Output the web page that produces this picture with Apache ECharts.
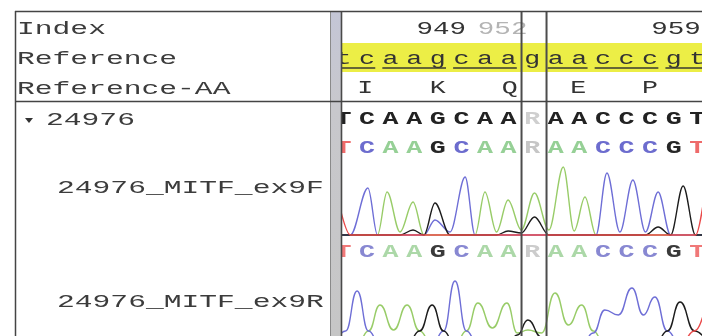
<!DOCTYPE html>
<html>
<head>
<meta charset="utf-8">
<script src="https://cdn.jsdelivr.net/npm/echarts@6/dist/echarts.min.js"></script>
<style>
  html, body { margin: 0; padding: 0; background: #fff; }
  #chart { width: 702px; height: 336px; }
</style>
</head>
<body>
<div id="chart"></div>
<script>
// sequence rows
const refBases = ['t','c','a','a','g','c','a','a','g','a','a','c','c','c','g','t']
const consensus = ['T','C','A','A','G','C','A','A','R','A','A','C','C','C','G','T']
const calls1 = ['T','C','A','A','G','C','A','A','R','A','A','C','C','C','G','T']
const calls2 = ['T','C','A','A','G','C','A','A','R','A','A','C','C','C','G','T']
const aaLabels = ['I', 'K', 'Q', 'E', 'P']
const aaAt = [0.92, 4, 7.05, 9.95, 13]
const indexLabels = ['949', '952', '959']
const indexAt = [5.2, 7.8, 15.15] // right edge, in bases
const codonFrom = [-1, 2, 5, 9, 11, 14]
const codonTo = [1, 4, 7, 10, 13, 16]
const boxEdges = [7.55, 8.61]
const rowNames = ['Index', 'Reference', 'Reference-AA']
const sampleName = '24976'
const traceNames = ['24976_MITF_ex9F', '24976_MITF_ex9R']

// forward trace: peak positions (bases), peak heights and valleys per channel
const pos1 = [-0.45, 1.04, 1.85, 2.95, 3.88, 5.16, 6.0, 6.98, 8.1, 9.32, 10.24, 11.17, 12.27, 13.34, 14.4, 15.45]
const peakA1 = [0, 0, 43, 33, 0, 0, 43, 35, 42, 68, 38, 0, 0, 0, 0, 0]
const peakC1 = [0, 47, 0, 0, 15, 58, 0, 0, 0, 0, 0, 62, 55, 43, 0, 0]
const peakG1 = [0, 0, 0, 5, 32, 0, 0, 4, 18, 0, 0, 0, 0, 8, 49, 0]
const peakT1 = [60, 0, 0, 0, 0, 0, 0, 0, 0, 0, 0, 0, 0, 0, 0, 65]
const valA1 = [0, 0, 3, 0, 0, 0, 3, 5, 5, 4, 0, 0, 0, 0, 0]
const valC1 = [0, 0, 0, 0, 3, 0, 0, 0, 0, 0, 0, 3, 3, 0, 0]
const valG1 = [0, 0, 0, 0, 0, 0, 0, 2, 0, 0, 0, 0, 0, 0, 0]
const valT1 = [0, 0, 0, 0, 0, 0, 0, 0, 0, 0, 0, 0, 0, 0, 0]

// reverse trace
const pos2 = [-0.4, 0.58, 1.55, 2.7, 3.76, 4.73, 5.7, 6.93, 7.82, 8.97, 10.1, 11.08, 12.23, 13.2, 14.27, 15.5]
const peakA2 = [0, 0, 40, 40, 0, 0, 42, 42, 15, 52, 40, 0, 0, 0, 0, 0]
const peakC2 = [0, 54, 0, 0, 0, 64, 0, 0, 0, 0, 0, 35, 57, 48, 0, 0]
const peakG2 = [0, 0, 0, 0, 40, 0, 0, 0, 25, 0, 0, 0, 0, 0, 43, 0]
const peakT2 = [10, 0, 0, 0, 0, 0, 0, 0, 0, 0, 0, 0, 0, 0, 0, 55]
const valA2 = [0, 14, 15, 14, 0, 14, 17, 12, 12, 20, 14, 0, 0, 0, 0]
const valC2 = [14, 14, 0, 0, 14, 14, 0, 0, 0, 0, 12, 30, 30, 14, 0]
const valG2 = [0, 0, 0, 14, 14, 0, 0, 10, 8, 0, 0, 0, 0, 14, 14]
const valT2 = [5, 0, 0, 0, 0, 0, 0, 0, 0, 0, 0, 0, 0, 0, 14]

const MONO = "'Liberation Mono', 'DejaVu Sans Mono', monospace"
const traceColor = { A: '#98cc68', C: '#6e6ed6', G: '#1c1c1c', T: '#ea4a4a' }
const callColor1 = { A: '#96d096', C: '#6c6cce', G: '#262626', T: '#ee6a6a', R: '#c6c6c6' }
const callColor2 = { A: '#acd8a8', C: '#8888d2', G: '#3a3a3a', T: '#f07878', R: '#cccccc' }
const consColor = { A: '#222', C: '#222', G: '#222', T: '#222', R: '#cfcfcf' }

const X_MIN = -0.06
const X_MAX = 15.2

function letterSeries(letters, rowY, colors, weight, sx) {
  return {
    type: 'custom',
    xAxisIndex: 0,
    yAxisIndex: 0,
    clip: true,
    z: 5,
    silent: true,
    data: letters.map((b, i) => [i, rowY]),
    renderItem: (params, api) => {
      const p = api.coord([api.value(0), api.value(1)])
      const b = letters[params.dataIndex]
      return {
        type: 'text', x: p[0], y: p[1], scaleX: sx,
        style: {
          text: b, fill: colors[b] || '#333', fontFamily: MONO, fontSize: 19, fontWeight: weight,
          align: 'center', verticalAlign: 'middle'
        }
      }
    }
  }
}

function traceData(pos, peaks, valleys) {
  const out = []
  for (let i = 0; i < pos.length; i++) {
    out.push([pos[i], peaks[i]])
    if (i < valleys.length) out.push([(pos[i] + pos[i + 1]) / 2, valleys[i]])
  }
  return out
}

function traceSeries(axis, base, pos, peaks, valleys, smooth) {
  return {
    type: 'line',
    xAxisIndex: axis,
    yAxisIndex: axis,
    data: traceData(pos, peaks, valleys),
    symbol: 'none',
    smooth: smooth,
    smoothMonotone: 'x',
    silent: true,
    z: 3,
    lineStyle: { color: traceColor[base], width: 1.4 }
  }
}

const chart = echarts.init(document.getElementById('chart'))

const xAx = i => ({ type: 'value', gridIndex: i, min: X_MIN, max: X_MAX, show: false })

const series = [
  // codon underlines
  {
    type: 'custom', xAxisIndex: 0, yAxisIndex: 0, clip: true, z: 4, silent: true,
    data: codonFrom.map((f, k) => [f, codonTo[k]]),
    renderItem: (params, api) => {
      const a = api.coord([api.value(0) - 0.35, 68])
      const b = api.coord([api.value(1) + 0.35, 68])
      return { type: 'line', shape: { x1: a[0], y1: a[1], x2: b[0], y2: b[1] }, style: { stroke: '#3a3a30', lineWidth: 1.6 } }
    }
  },
  // index numbers
  {
    type: 'custom', xAxisIndex: 0, yAxisIndex: 0, clip: true, z: 5, silent: true,
    data: indexAt.map(v => [v, 29]),
    renderItem: (params, api) => {
      const p = api.coord([api.value(0), api.value(1)])
      return {
        type: 'text', x: p[0], y: p[1], scaleX: 1.45,
        style: {
          text: indexLabels[params.dataIndex], fill: params.dataIndex === 1 ? '#b4b4b4' : '#333',
          fontFamily: MONO, fontSize: 19, align: 'right', verticalAlign: 'middle'
        }
      }
    }
  },
  // amino acids
  {
    type: 'custom', xAxisIndex: 0, yAxisIndex: 0, clip: true, z: 5, silent: true,
    data: aaAt.map(v => [v, 88]),
    renderItem: (params, api) => {
      const p = api.coord([api.value(0), api.value(1)])
      return {
        type: 'text', x: p[0], y: p[1], scaleX: 1.4,
        style: { text: aaLabels[params.dataIndex], fill: '#333', fontFamily: MONO, fontSize: 19, align: 'center', verticalAlign: 'middle' }
      }
    }
  },
  // column box lines
  {
    type: 'custom', xAxisIndex: 0, yAxisIndex: 0, clip: false, z: 8, silent: true,
    data: boxEdges.map(v => [v]),
    renderItem: (params, api) => {
      const a = api.coord([api.value(0), 11])
      const b = api.coord([api.value(0), 336])
      return { type: 'line', shape: { x1: a[0], y1: a[1], x2: b[0], y2: b[1] }, style: { stroke: '#4c4c4c', lineWidth: 2 } }
    }
  },
  letterSeries(refBases, 59, {}, 'normal', 1.4),
  letterSeries(consensus, 119, consColor, 'bold', 1.4),
  letterSeries(calls1, 148, callColor1, 'bold', 1.4),
  letterSeries(calls2, 252, callColor2, 'bold', 1.4),
  traceSeries(1, 'A', pos1, peakA1, valA1, 0.35),
  traceSeries(1, 'C', pos1, peakC1, valC1, 0.35),
  traceSeries(1, 'G', pos1, peakG1, valG1, 0.35),
  traceSeries(1, 'T', pos1, peakT1, valT1, 0.35),
  traceSeries(2, 'A', pos2, peakA2, valA2, 0.5),
  traceSeries(2, 'C', pos2, peakC2, valC2, 0.5),
  traceSeries(2, 'G', pos2, peakG2, valG2, 0.5),
  traceSeries(2, 'T', pos2, peakT2, valT2, 0.5)
]

const labelText = (text, x, y) => ({
  type: 'text', x, y, scaleX: 1.56, z: 60,
  style: { text, fill: '#3c3c3c', fontFamily: MONO, fontSize: 19, align: 'left', verticalAlign: 'middle' }
})
const hline = (x1, x2, y, color, w) => ({ type: 'line', z: 50, shape: { x1, y1: y, x2, y2: y }, style: { stroke: color, lineWidth: w } })
const vline = (x, y1, y2, color, w) => ({ type: 'line', z: 50, shape: { x1: x, y1, x2: x, y2 }, style: { stroke: color, lineWidth: w } })

chart.setOption({
  animation: false,
  backgroundColor: '#fff',
  grid: [
    { left: 342, right: 0, top: 0, bottom: 0 },
    { left: 342, right: 0, top: 160, bottom: 100 },
    { left: 342, right: 0, top: 262, bottom: 0 }
  ],
  xAxis: [xAx(0), xAx(1), xAx(2)],
  yAxis: [
    { type: 'value', gridIndex: 0, min: 0, max: 336, inverse: true, show: false },
    { type: 'value', gridIndex: 1, min: -1, max: 75, show: false },
    { type: 'value', gridIndex: 2, min: 9, max: 83, show: false }
  ],
  graphic: [
    // yellow reference band
    { type: 'rect', z: 0, shape: { x: 342, y: 43, width: 360, height: 29 }, style: { fill: '#ecee46' } },
    // splitter
    {
      type: 'rect', z: 40, shape: { x: 330, y: 11, width: 11, height: 325 },
      style: {
        fill: {
          type: 'linear', x: 0, y: 0, x2: 0, y2: 1,
          colorStops: [{ offset: 0, color: '#c4c6d6' }, { offset: 0.3, color: '#c8c8cc' }, { offset: 1, color: '#c6c6c6' }]
        }
      }
    },
    vline(330.5, 11, 336, '#8a8a8a', 1),
    vline(341.5, 11, 336, '#4a4a4a', 1.6),
    vline(15.5, 11, 336, '#444', 1.5),
    hline(15, 702, 11.5, '#444', 1.5),
    hline(15, 702, 101.5, '#444', 1.5),
    labelText(rowNames[0], 17, 29),
    labelText(rowNames[1], 17, 58.5),
    labelText(rowNames[2], 17, 88.5),
    { type: 'polygon', z: 60, shape: { points: [[25, 118], [33, 118], [29, 123]] }, style: { fill: '#333' } },
    labelText(sampleName, 46, 120),
    labelText(traceNames[0], 57, 188),
    labelText(traceNames[1], 57, 302)
  ],
  series
})
</script>
</body>
</html>
